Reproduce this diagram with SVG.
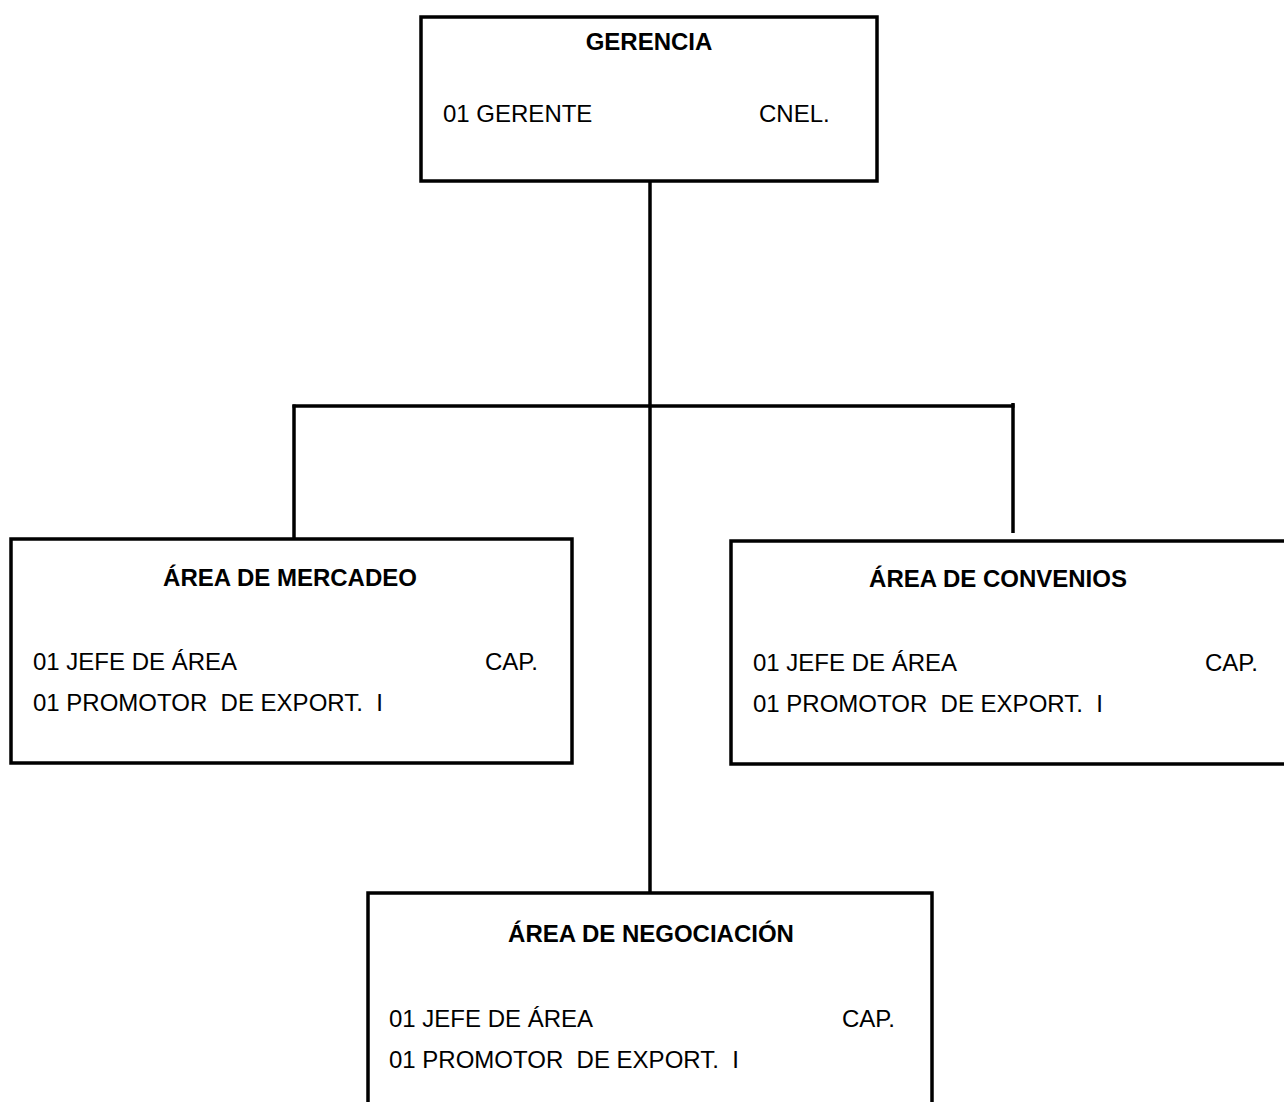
<svg xmlns="http://www.w3.org/2000/svg" width="1284" height="1102" viewBox="0 0 1284 1102">
  <style>
    .box { fill: #ffffff; stroke: #000000; stroke-width: 3.5; }
    .link { stroke: #000000; stroke-width: 3.5; fill: none; }
    text { font-family: "Liberation Sans", Arial, sans-serif; font-size: 24px; fill: #000000; white-space: pre; }
    .title { font-weight: bold; text-anchor: middle; }
  </style>
  <rect width="1284" height="1102" fill="#ffffff"/>

  <!-- connectors -->
  <g id="connectors">
    <line class="link" x1="650" y1="181" x2="650" y2="893"/>
    <line class="link" x1="292.5" y1="406" x2="1014.5" y2="406"/>
    <line class="link" x1="294" y1="404.5" x2="294" y2="539"/>
    <line class="link" x1="1013" y1="403" x2="1013" y2="533"/>
  </g>

  <!-- GERENCIA -->
  <g id="gerencia">
    <rect class="box" x="421" y="17" width="456" height="164"/>
    <text class="title" x="649" y="50">GERENCIA</text>
    <text x="443" y="122">01 GERENTE</text>
    <text x="759" y="122">CNEL.</text>
  </g>

  <!-- Área de Mercadeo -->
  <g id="mercadeo">
    <rect class="box" x="11" y="539" width="561" height="224"/>
    <text class="title" x="290" y="586">ÁREA DE MERCADEO</text>
    <text x="33" y="670">01 JEFE DE ÁREA</text>
    <text x="485" y="670">CAP.</text>
    <text x="33" y="711">01 PROMOTOR  DE EXPORT.  I</text>
  </g>

  <!-- Área de Convenios -->
  <g id="convenios">
    <rect class="box" x="731" y="541" width="570" height="223"/>
    <text class="title" x="998" y="587">ÁREA DE CONVENIOS</text>
    <text x="753" y="671">01 JEFE DE ÁREA</text>
    <text x="1205" y="671">CAP.</text>
    <text x="753" y="712">01 PROMOTOR  DE EXPORT.  I</text>
  </g>

  <!-- Área de Negociación -->
  <g id="negociacion">
    <rect class="box" x="368" y="893" width="564" height="230"/>
    <text class="title" x="651" y="942">ÁREA DE NEGOCIACIÓN</text>
    <text x="389" y="1027">01 JEFE DE ÁREA</text>
    <text x="842" y="1027">CAP.</text>
    <text x="389" y="1068">01 PROMOTOR  DE EXPORT.  I</text>
  </g>
</svg>
